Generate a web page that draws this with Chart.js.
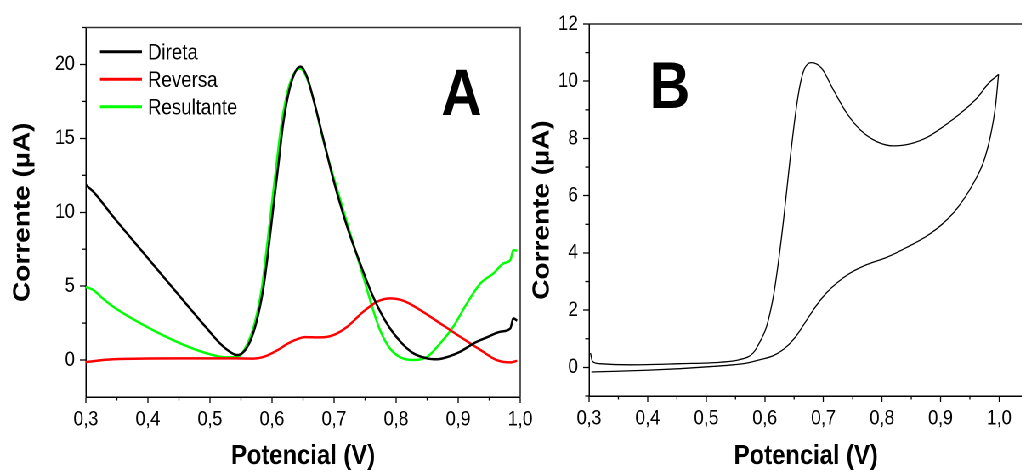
<!DOCTYPE html>
<html>
<head>
<meta charset="utf-8">
<script src="https://cdn.jsdelivr.net/npm/chart.js@4.4.1/dist/chart.umd.min.js"></script>
<style>
html,body{margin:0;padding:0;background:#fff;overflow:hidden;width:1022px;height:473px}
#wrap{position:relative;width:1203px;height:473px;transform:scaleX(0.85);transform-origin:0 0}
#wrap .p{position:absolute;top:0}
</style>
</head>
<body>
<div id="wrap">
  <div class="p" style="left:0;width:640px;height:473px"><canvas id="ca" width="640" height="473"></canvas></div>
  <div class="p" style="left:620px;width:583px;height:473px"><canvas id="cb" width="583" height="473"></canvas></div>
</div>
<script>
// ---------- Panel A data (Potencial V, Corrente µA) ----------
const xDireta = [0.300,0.312,0.344,0.398,0.452,0.495,0.516,0.532,0.543,0.553,0.5645,0.575,0.586,0.594,0.602,0.6105,0.618,0.628,0.638,0.646,0.656,0.667,0.683,0.699,0.721,0.742,0.763,0.785,0.807,0.828,0.850,0.866,0.887,0.903,0.925,0.946,0.968,0.984,0.989,0.995];
const yDireta = [11.85,11.39,9.70,6.99,4.28,2.14,1.13,0.56,0.34,0.50,1.24,2.59,4.85,7.4,10.3,13.3,16.0,18.3,19.55,19.85,19.2,17.6,14.9,12.18,9.02,6.54,4.28,2.48,1.24,0.45,0.11,0.05,0.27,0.56,1.13,1.53,1.92,2.14,2.82,2.66];

const xReversa = [0.300,0.344,0.452,0.540,0.570,0.589,0.610,0.625,0.637,0.653,0.677,0.699,0.721,0.747,0.769,0.790,0.812,0.839,0.871,0.903,0.936,0.962,0.984,0.995];
const yReversa = [-0.13,0.05,0.11,0.11,0.10,0.25,0.70,1.10,1.35,1.55,1.53,1.69,2.25,3.27,3.94,4.17,4.01,3.38,2.48,1.58,0.68,0.0,-0.16,-0.05];

const xResultante = [0.300,0.312,0.325,0.344,0.398,0.452,0.495,0.527,0.5457,0.5618,0.5726,0.5834,0.5914,0.5995,0.6076,0.6156,0.6263,0.637,0.6452,0.656,0.667,0.683,0.699,0.726,0.747,0.763,0.774,0.790,0.807,0.828,0.850,0.871,0.892,0.914,0.936,0.957,0.973,0.984,0.989,0.995];
const yResultante = [4.95,4.74,4.25,3.61,2.25,1.13,0.45,0.18,0.25,1.24,2.59,4.85,7.56,10.49,13.42,16.1,18.38,19.5,19.73,19.1,17.6,14.8,12.4,8.57,5.64,3.38,2.03,0.79,0.18,0.0,0.22,1.13,2.25,3.83,5.19,5.87,6.54,6.77,7.44,7.4];

const seriesNamesA = ['Direta','Reversa','Resultante'];

// ---------- Panel B data (cyclic voltammogram) ----------
const xIda = [0.3024,0.3058,0.318,0.370,0.455,0.524,0.557,0.580,0.592,0.603,0.6146,0.623,0.632,0.643,0.652,0.659,0.666,0.673,0.680,0.697,0.717,0.740,0.763,0.791,0.820,0.848,0.877,0.905,0.934,0.962,0.982,0.999];
const yIda = [0.50,0.21,0.13,0.09,0.13,0.18,0.27,0.50,0.91,1.43,2.48,3.65,5.16,7.25,8.8,9.75,10.35,10.6,10.65,10.45,9.70,8.88,8.30,7.89,7.74,7.81,8.04,8.42,8.88,9.41,9.93,10.24];

const xVolta = [0.999,0.9936,0.985,0.9736,0.9565,0.928,0.9025,0.877,0.843,0.8085,0.774,0.746,0.723,0.706,0.689,0.672,0.655,0.6375,0.6146,0.592,0.569,0.546,0.512,0.455,0.398,0.341,0.304];
const yVolta = [10.24,9.11,8.07,7.20,6.45,5.55,5.00,4.60,4.20,3.85,3.59,3.30,2.95,2.62,2.19,1.67,1.14,0.73,0.41,0.27,0.15,0.09,0.035,-0.045,-0.10,-0.14,-0.16];

// ---------- Ticks ----------
const ticksX = [0.3,0.4,0.5,0.6,0.7,0.8,0.9,1.0];
const labelsX = ['0,3','0,4','0,5','0,6','0,7','0,8','0,9','1,0'];
const minorX = [0.35,0.45,0.55,0.65,0.75,0.85,0.95];
const ticksAY = [0,5,10,15,20];
const labelsAY = ['0','5','10','15','20'];
const minorAY = [2.5,7.5,12.5,17.5,22.5];
const ticksBY = [0,2,4,6,8,10,12];
const labelsBY = ['0','2','4','6','8','10','12'];
const minorBY = [-1,1,3,5,7,9,11];

const FONT = '"Liberation Sans", Arial, sans-serif';
Chart.defaults.font.family = FONT;
Chart.defaults.color = '#000';

function pts(xs, ys){ return xs.map((x,i)=>({x:x, y:ys[i]})); }

function panelPlugin(cfg){
  return {
    id: 'panel' + cfg.letter,
    afterDraw(chart){
      const ctx = chart.ctx, a = chart.chartArea, sx = chart.scales.x, sy = chart.scales.y;
      ctx.save();
      ctx.strokeStyle = cfg.frameColor; ctx.lineWidth = cfg.frameWidth;
      ctx.beginPath();
      ctx.moveTo(a.left, a.top); ctx.lineTo(a.right, a.top);
      if (cfg.rightFrame) ctx.lineTo(a.right, a.bottom);
      ctx.stroke();
      ctx.strokeStyle = '#000'; ctx.lineWidth = 1.3;
      cfg.minorX.forEach(v => { const p = sx.getPixelForValue(v); ctx.beginPath(); ctx.moveTo(p, a.bottom); ctx.lineTo(p, a.bottom + 3.5); ctx.stroke(); });
      cfg.minorY.forEach(v => { const p = sy.getPixelForValue(v); ctx.beginPath(); ctx.moveTo(a.left, p); ctx.lineTo(a.left - 4.5, p); ctx.stroke(); });
      ctx.fillStyle = '#000';
      ctx.font = 'bold 66px ' + FONT;
      ctx.textAlign = 'center'; ctx.textBaseline = 'alphabetic';
      ctx.fillText(cfg.letter, cfg.letterX, cfg.letterY);
      if (cfg.legend) {
        ctx.font = '22px ' + FONT; ctx.textAlign = 'left';
        chart.data.datasets.forEach((ds, i) => {
          const yy = 51.7 + i * 27.5;
          ctx.strokeStyle = ds.borderColor; ctx.lineWidth = 3;
          ctx.beginPath(); ctx.moveTo(117.6, yy); ctx.lineTo(167, yy); ctx.stroke();
          ctx.fillStyle = '#000';
          ctx.fillText(ds.label, 174, yy + 7.8);
        });
      }
      ctx.restore();
    }
  };
}

function xScale(max, h){
  return {
    type: 'linear', min: 0.3, max: max,
    afterBuildTicks: s => { s.ticks = ticksX.map(v => ({value: v})); },
    afterFit: s => { s.height = h; },
    ticks: { callback: (v, i) => labelsX[i], font: {size: 21}, color: '#000', padding: 4, maxRotation: 0, autoSkip: false },
    grid: { display: true, drawOnChartArea: false, tickLength: 6, tickColor: '#000', tickWidth: 1.3 },
    border: { display: true, color: '#000', width: 1.5 },
    title: { display: true, text: 'Potencial (V)', font: {size: 28, weight: 'bold'}, color: '#000', padding: {top: 0, bottom: 0} }
  };
}
function yScale(min, max, ticks, labels, w, tpad){
  return {
    type: 'linear', min: min, max: max,
    afterBuildTicks: s => { s.ticks = ticks.map(v => ({value: v})); },
    afterFit: s => { s.width = w; },
    ticks: { callback: (v, i) => labels[i], font: {size: 21}, color: '#000', padding: 6, autoSkip: false },
    grid: { display: true, drawOnChartArea: false, tickLength: 7, tickColor: '#000', tickWidth: 1.3 },
    border: { display: true, color: '#000', width: 1.5 },
    title: { display: true, text: 'Corrente (\u00b5A)', font: {size: 28, weight: 'bold'}, color: '#000', padding: {top: tpad, bottom: 0} }
  };
}

const common = {
  responsive: false, animation: false, devicePixelRatio: 2,
  plugins: { legend: {display: false}, tooltip: {enabled: false} },
  elements: { point: {radius: 0} }
};

new Chart(document.getElementById('ca'), {
  type: 'scatter',
  data: { datasets: [
    { label: seriesNamesA[0], data: pts(xDireta, yDireta), borderColor: '#000000', showLine: true, borderWidth: 2.5, cubicInterpolationMode: 'monotone', pointRadius: 0 },
    { label: seriesNamesA[1], data: pts(xReversa, yReversa), borderColor: '#ff0000', showLine: true, borderWidth: 2.5, cubicInterpolationMode: 'monotone', pointRadius: 0 },
    { label: seriesNamesA[2], data: pts(xResultante, yResultante), borderColor: '#00ff00', showLine: true, borderWidth: 2.5, cubicInterpolationMode: 'monotone', pointRadius: 0 }
  ]},
  options: Object.assign({}, common, {
    layout: { padding: {left: 0, top: 27.5, right: 28, bottom: 0} },
    scales: { x: xScale(1.0, 76), y: yScale(-2.5, 22.5, ticksAY, labelsAY, 101, 10) }
  }),
  plugins: [panelPlugin({letter: 'A', letterX: 543, letterY: 115, frameColor: '#333', frameWidth: 1.6, rightFrame: true, minorX: minorX, minorY: minorAY, legend: true})]
});

new Chart(document.getElementById('cb'), {
  type: 'scatter',
  data: { datasets: [
    { label: 'Ida', data: pts(xIda, yIda), borderColor: '#000000', showLine: true, borderWidth: 1.3, cubicInterpolationMode: 'monotone', pointRadius: 0 },
    { label: 'Volta', data: pts(xVolta, yVolta), borderColor: '#000000', showLine: true, borderWidth: 1.3, cubicInterpolationMode: 'monotone', pointRadius: 0 }
  ]},
  options: Object.assign({}, common, {
    layout: { padding: {left: 0, top: 24, right: 0, bottom: 0} },
    scales: { x: xScale(1.04, 77), y: yScale(-1, 12, ticksBY, labelsBY, 73, 1) }
  }),
  plugins: [panelPlugin({letter: 'B', letterX: 168, letterY: 108, frameColor: '#000', frameWidth: 1.3, rightFrame: false, minorX: minorX, minorY: minorBY, legend: false})]
});
</script>
</body>
</html>
